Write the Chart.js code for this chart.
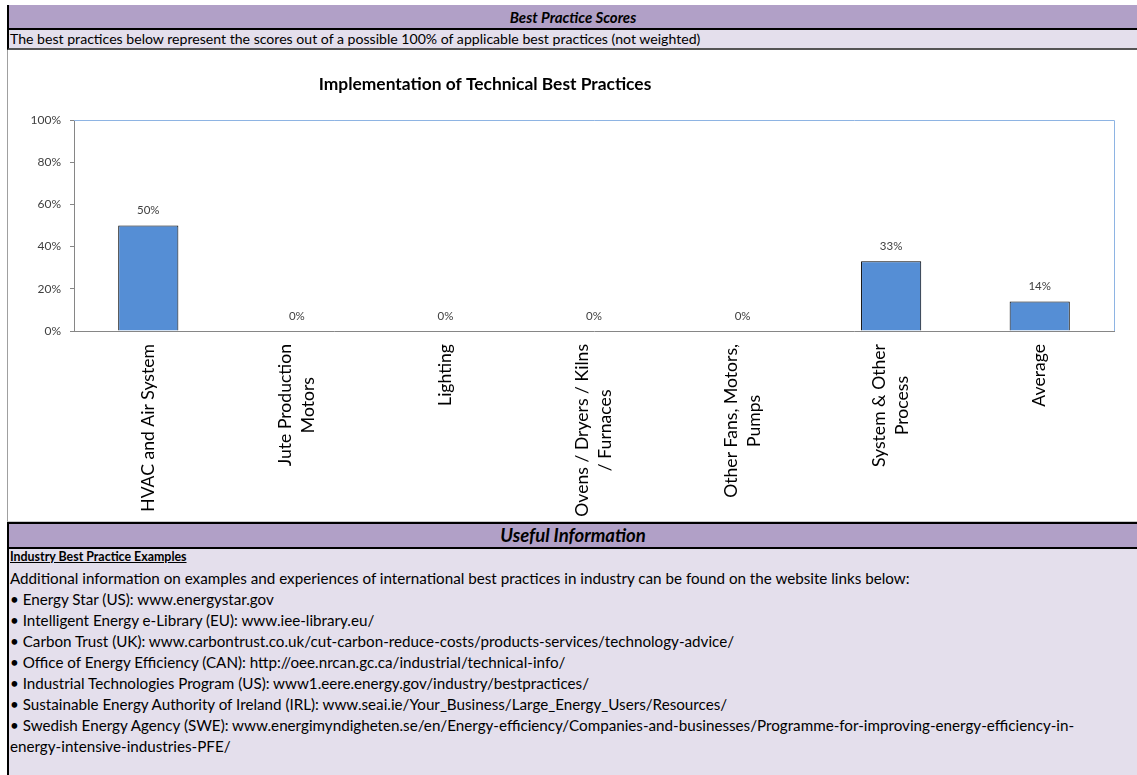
<!DOCTYPE html>
<html>
<head>
<meta charset="utf-8">
<script src="https://cdn.jsdelivr.net/npm/chart.js@4.4.0/dist/chart.umd.min.js"></script>
<style>
  body { margin: 0; width: 1137px; height: 775px; position: relative; overflow: hidden; background: #fff; font-family: Lato, sans-serif; color: #000; }
  .band { position: absolute; left: 7px; right: 0; box-sizing: border-box; }
  .purple { background: #b1a0c7; text-align: center; font-weight: bold; font-style: italic; font-size: 15px; }
  .lav { background: #e4dfec; }
  #hdr { top: 5px; height: 25px; line-height: 25px; border-left: 2px solid #000; border-bottom: 2px solid #000; }
  #sub { top: 30px; height: 20px; line-height: 17px; font-size: 14.1px; padding-left: 1px; border-left: 2px solid #000; border-bottom: 2px solid #555; }
  #chartBox { top: 50px; height: 472px; border-left: 1px solid #a0a0a0; border-bottom: 1px solid #c8c8c8; }
  #info { top: 522px; height: 27px; line-height: 23px; font-size: 18.5px; border-left: 2px solid #000; border-top: 2px solid #000; border-bottom: 2px solid #000; }
  #links { top: 549px; bottom: 0; border-left: 2px solid #000; font-size: 15.2px; padding-left: 1px; }
  #links div { height: 21px; line-height: 16px; white-space: nowrap; }
  #links .head { font-weight: bold; text-decoration: underline; font-size: 12.4px; }
  canvas { position: absolute; left: 0; top: 0; }
</style>
</head>
<body>
<div id="hdr" class="band purple">Best Practice Scores</div>
<div id="sub" class="band lav">The best practices below represent the scores out of a possible 100% of applicable best practices (not weighted)</div>
<div id="chartBox" class="band"><canvas id="bestPracticeChart" width="1130" height="471"></canvas></div>
<div id="info" class="band purple">Useful Information</div>
<div id="links" class="band lav"></div>

<script>
// chart data
var chartTitle = 'Implementation of Technical Best Practices';
var categories = [
    ['HVAC and Air System'],
    ['Jute Production', 'Motors'],
    ['Lighting'],
    ['Ovens / Dryers / Kilns', '/ Furnaces'],
    ['Other Fans, Motors,', 'Pumps'],
    ['System & Other', 'Process'],
    ['Average']
];
var scores = [50, 0, 0, 0, 0, 33, 14];
var yTickValues = [0, 20, 40, 60, 80, 100];

// text below the chart
var linkLines = [
    'Additional information on examples and experiences of international best practices in industry can be found on the website links below:',
    '\u2022  Energy Star (US): www.energystar.gov',
    '\u2022  Intelligent Energy e-Library (EU): www.iee-library.eu/',
    '\u2022  Carbon Trust (UK): www.carbontrust.co.uk/cut-carbon-reduce-costs/products-services/technology-advice/',
    '\u2022  Office of Energy Efficiency (CAN): http://oee.nrcan.gc.ca/industrial/technical-info/',
    '\u2022  Industrial Technologies Program (US): www1.eere.energy.gov/industry/bestpractices/',
    '\u2022  Sustainable Energy Authority of Ireland (IRL): www.seai.ie/Your_Business/Large_Energy_Users/Resources/',
    '\u2022  Swedish Energy Agency (SWE): www.energimyndigheten.se/en/Energy-efficiency/Companies-and-businesses/Programme-for-improving-energy-efficiency-in-',
    'energy-intensive-industries-PFE/'
];

var links = document.getElementById('links');
var head = document.createElement('div');
head.className = 'head';
head.textContent = 'Industry Best Practice Examples';
links.appendChild(head);
linkLines.forEach(function(t) {
    var d = document.createElement('div');
    d.textContent = t;
    links.appendChild(d);
});

var FONT = 'Lato, sans-serif';

var extras = {
    id: 'extras',
    beforeDatasetsDraw: function(chart) {
        var ctx = chart.ctx, a = chart.chartArea;
        ctx.save();
        ctx.strokeStyle = '#8eb4e3';
        ctx.lineWidth = 1;
        ctx.beginPath();
        ctx.moveTo(a.left, a.top + 0.5);
        ctx.lineTo(a.right + 0.5, a.top + 0.5);
        ctx.lineTo(a.right + 0.5, a.bottom);
        ctx.stroke();
        ctx.restore();
    },
    afterDatasetsDraw: function(chart) {
        var ctx = chart.ctx;
        var meta = chart.getDatasetMeta(0);
        ctx.save();
        ctx.font = '11.5px ' + FONT;
        ctx.fillStyle = '#404040';
        ctx.textAlign = 'center';
        ctx.textBaseline = 'middle';
        meta.data.forEach(function(bar, i) {
            ctx.fillText(scores[i] + '%', bar.x, bar.y - 15);
        });
        ctx.restore();
    },
    afterDraw: function(chart) {
        var ctx = chart.ctx;
        var xScale = chart.scales.x;
        var axisY = chart.chartArea.bottom;
        ctx.save();
        // title
        ctx.font = 'bold 17.4px ' + FONT;
        ctx.fillStyle = '#000';
        ctx.textAlign = 'center';
        ctx.textBaseline = 'middle';
        ctx.fillText(chartTitle, 477, 34);
        // rotated category labels, lines centred inside the block
        ctx.font = '17.6px ' + FONT;
        var lineH = 23;
        categories.forEach(function(lines, i) {
            var cx = xScale.getPixelForTick(i);
            var w = 0;
            lines.forEach(function(l) { w = Math.max(w, ctx.measureText(l).width); });
            ctx.save();
            ctx.translate(cx, axisY + 13);
            ctx.rotate(-Math.PI / 2);
            lines.forEach(function(l, k) {
                ctx.fillText(l, -w / 2, (k - (lines.length - 1) / 2) * lineH);
            });
            ctx.restore();
        });
        ctx.restore();
    }
};

var chart = new Chart(document.getElementById('bestPracticeChart'), {
    type: 'bar',
    data: {
        labels: categories,
        datasets: [{
            label: 'Score',
            data: scores,
            backgroundColor: '#558ed5',
            borderColor: '#000',
            borderWidth: 1,
            categoryPercentage: 1,
            barPercentage: 0.405
        }]
    },
    options: {
        responsive: false,
        animation: false,
        layout: { padding: { left: 0, right: 24, top: 70, bottom: 0 } },
        plugins: {
            legend: { display: false },
            title: { display: false },
            tooltip: { enabled: false }
        },
        scales: {
            x: {
                grid: { display: false },
                border: { display: true, color: '#868686' },
                ticks: { display: false },
                afterFit: function(scale) { scale.height = 190; }
            },
            y: {
                min: 0,
                max: 100,
                afterBuildTicks: function(scale) {
                    scale.ticks = yTickValues.map(function(v) { return { value: v }; });
                },
                grid: { drawOnChartArea: false, drawTicks: true, tickLength: 4, color: '#868686' },
                border: { display: true, color: '#868686' },
                ticks: {
                    padding: 9,
                    color: '#404040',
                    font: { family: FONT, size: 12 },
                    callback: function(v) { return v + '%'; }
                },
                afterFit: function(scale) { scale.width = 66; }
            }
        }
    },
    plugins: [extras]
});
</script>
</body>
</html>
